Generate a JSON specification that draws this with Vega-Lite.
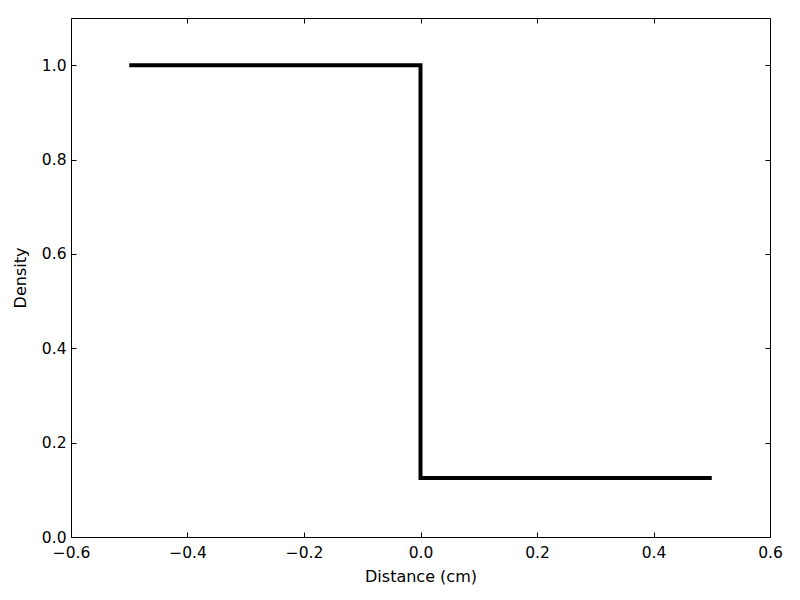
{
  "$schema": "https://vega.github.io/schema/vega-lite/v6.json",
  "width": 699,
  "height": 519,
  "autosize": {"type": "none"},
  "padding": {"left": 71, "top": 18, "right": 30, "bottom": 63},
  "background": "white",
  "config": {
    "view": {"stroke": "black", "strokeWidth": 1},
    "font": "DejaVu Sans",
    "axis": {
      "grid": false,
      "domain": false,
      "tickColor": "black",
      "tickSize": -5,
      "labelColor": "black",
      "labelFont": "DejaVu Sans",
      "labelFontSize": 15.5,
      "titleFont": "DejaVu Sans",
      "titleFontSize": 16,
      "titleFontWeight": "normal",
      "titleColor": "black"
    }
  },
  "data": {
    "values": [
      {"order": 1, "distance": -0.5, "density": 1.0},
      {"order": 2, "distance": 0.0, "density": 1.0},
      {"order": 3, "distance": 0.0, "density": 0.125},
      {"order": 4, "distance": 0.5, "density": 0.125}
    ]
  },
  "layer": [
    {
      "mark": {"type": "line", "color": "black", "strokeWidth": 4, "strokeJoin": "miter", "strokeCap": "butt"},
      "encoding": {
        "x": {
          "field": "distance", "type": "quantitative",
          "scale": {"domain": [-0.6, 0.6], "nice": false, "zero": false},
          "axis": {"orient": "bottom", "title": "Distance (cm)", "values": [-0.6, -0.4, -0.2, 0, 0.2, 0.4, 0.6], "format": ".1f", "labelPadding": 13, "titlePadding": 8, "labelFlush": false}
        },
        "y": {
          "field": "density", "type": "quantitative",
          "scale": {"domain": [0, 1.1], "nice": false, "zero": false},
          "axis": {"orient": "left", "title": "Density", "values": [0, 0.2, 0.4, 0.6, 0.8, 1.0], "format": ".1f", "labelPadding": 10, "titlePadding": 13, "labelFlush": false}
        },
        "order": {"field": "order", "type": "quantitative"}
      }
    },
    {
      "mark": {"type": "line", "strokeOpacity": 0},
      "encoding": {
        "x": {
          "field": "distance", "type": "quantitative",
          "axis": {"orient": "top", "title": null, "labels": false, "values": [-0.6, -0.4, -0.2, 0, 0.2, 0.4, 0.6]}
        },
        "y": {
          "field": "density", "type": "quantitative",
          "axis": {"orient": "right", "title": null, "labels": false, "values": [0, 0.2, 0.4, 0.6, 0.8, 1.0]}
        },
        "order": {"field": "order", "type": "quantitative"}
      }
    }
  ],
  "resolve": {"axis": {"x": "independent", "y": "independent"}}
}
